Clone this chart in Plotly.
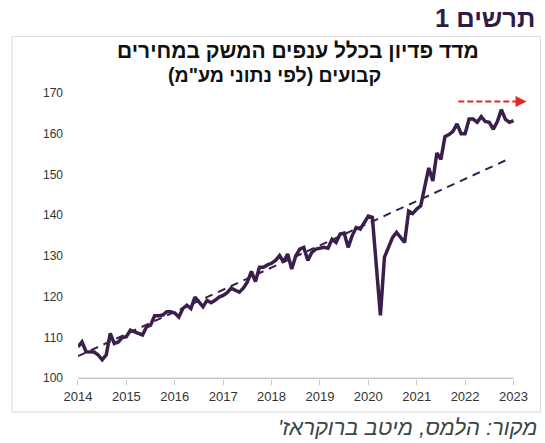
import plotly.graph_objects as go

# ---------------- data ----------------
start_year = 2014
months_per_year = 12
index_values = [
    107.7, 108.9, 106.5, 106.4, 106.4, 105.7, 104.5, 105.7, 111.0, 108.5, 108.9, 110.0,   # 2014
    110.2, 111.8, 111.3, 111.0, 110.6, 112.6, 113.0, 115.3, 115.3, 115.5, 116.3, 116.3,   # 2015
    116.0, 115.0, 117.1, 117.9, 117.1, 119.9, 118.7, 117.5, 119.1, 118.5, 119.1, 119.9,   # 2016
    120.3, 121.0, 122.1, 121.5, 121.1, 122.1, 123.6, 126.2, 123.7, 127.2, 127.2, 127.8,   # 2017
    128.2, 128.9, 130.1, 128.5, 130.5, 126.8, 130.0, 131.7, 132.1, 128.9, 130.9, 131.7,   # 2018
    131.9, 132.1, 131.9, 134.1, 133.3, 135.4, 135.6, 132.1, 135.0, 137.0, 136.6, 138.2,   # 2019
    139.8, 139.5, 127.5, 115.4, 129.7, 132.0, 134.5, 135.8, 134.5, 133.3, 141.0, 140.4,   # 2020
    141.5, 142.3, 147.0, 151.6, 148.4, 155.3, 153.7, 159.3, 159.8, 160.6, 162.4, 160.0,   # 2021
    160.0, 163.6, 163.6, 162.8, 164.2, 163.0, 162.8, 161.1, 163.0, 165.9, 163.5, 162.8,   # 2022
    163.2,                                                                                # 2023
]
dates = [start_year + i / months_per_year for i in range(len(index_values))]

trend_x = [2014.0, 2022.9]
trend_y = [105.4, 153.8]

arrow_x = [2021.86, 2023.12]
arrow_y = [167.9, 167.9]
arrow_tip_x = 2023.27
arrow_tip_y = 167.9

year_ticks = list(range(2014, 2024))
year_labels = [str(y) for y in year_ticks]
value_ticks = list(range(100, 171, 10))

main_title = "תרשים 1"
chart_title_1 = "\u202bמדד פדיון בכלל ענפים המשק במחירים\u202c"
chart_title_2 = "\u202bקבועים (לפי נתוני מע\"מ)\u202c"
source_text = "\u202bמקור: הלמס, מיטב ברוקראז'\u202c"

# ---------------- figure ----------------
PURPLE = "#3a1f4e"
RED = "#e8262a"
FONT = "Liberation Sans, Arial, sans-serif"

fig = go.Figure()

fig.add_trace(go.Scatter(
    x=trend_x, y=trend_y, mode="lines",
    line=dict(color=PURPLE, width=2, dash="8px,6px"),
    hoverinfo="skip", showlegend=False,
))
fig.add_trace(go.Scatter(
    x=dates, y=index_values, mode="lines",
    line=dict(color=PURPLE, width=3.5),
    showlegend=False,
))
fig.add_trace(go.Scatter(
    x=arrow_x, y=arrow_y, mode="lines",
    line=dict(color=RED, width=2, dash="6px,3px"),
    hoverinfo="skip", showlegend=False,
))

fig.add_annotation(
    x=arrow_tip_x, y=arrow_tip_y, ax=arrow_x[-1] - 0.05, ay=arrow_y[-1],
    xref="x", yref="y", axref="x", ayref="y",
    text="", showarrow=True, arrowhead=2, arrowsize=1.1, arrowwidth=2,
    arrowcolor=RED,
)

# x-axis base line (2014 .. 2023 only)
fig.add_shape(type="line", xref="x", yref="y",
              x0=year_ticks[0], x1=year_ticks[-1], y0=value_ticks[0], y1=value_ticks[0],
              line=dict(color="#c8c8c8", width=1.5), layer="above")

# outer frame
fig.add_shape(type="rect", xref="paper", yref="paper",
              x0=0.0220, x1=0.9917, y0=0.0700, y1=0.9172,
              line=dict(color="#d9d9d9", width=1), layer="below")

fig.add_annotation(text=f"<b>{main_title}</b>", xref="paper", yref="paper",
                   x=0.889, y=0.9594, xanchor="center", yanchor="middle",
                   showarrow=False, font=dict(family=FONT, size=25.5, color="#2f1b45"))
fig.add_annotation(text=f"<b>{chart_title_1}</b>", xref="paper", yref="paper",
                   x=0.547, y=0.8871, xanchor="center", yanchor="middle",
                   showarrow=False, font=dict(family=FONT, size=21, color="#111111"))
fig.add_annotation(text=f"<b>{chart_title_2}</b>", xref="paper", yref="paper",
                   x=0.503, y=0.831, xanchor="center", yanchor="middle",
                   showarrow=False, font=dict(family=FONT, size=19.5, color="#111111"))
fig.add_annotation(text=source_text, xref="paper", yref="paper",
                   x=0.748, y=0.0339, xanchor="center", yanchor="middle",
                   showarrow=False,
                   font=dict(family=FONT, size=22, color="#3a4646", style="italic"))

fig.update_layout(
    width=545, height=443,
    margin=dict(l=0, r=0, t=0, b=0, pad=0),
    paper_bgcolor="white", plot_bgcolor="white",
    font=dict(family=FONT, color="#404040"),
    showlegend=False,
    xaxis=dict(
        domain=[0.1431, 0.9688],
        range=[2014, 2023.3], tickvals=year_ticks, ticktext=year_labels,
        showgrid=False, zeroline=False, showline=False, automargin=False,
        ticks="outside", ticklen=5, tickcolor="#c8c8c8", tickwidth=1,
        tickfont=dict(family=FONT, size=13, color="#333333"),
    ),
    yaxis=dict(
        domain=[0.1445, 0.7901],
        range=[99.8, 170], tickvals=value_ticks,
        showgrid=False, zeroline=False, showline=False, ticks="", automargin=False,
        ticklabelstandoff=14,
        tickfont=dict(family=FONT, size=12, color="#333333"),
    ),
)

fig.write_html("out.html", config={"displayModeBar": False},
               post_script="document.body.style.margin='0px';")
